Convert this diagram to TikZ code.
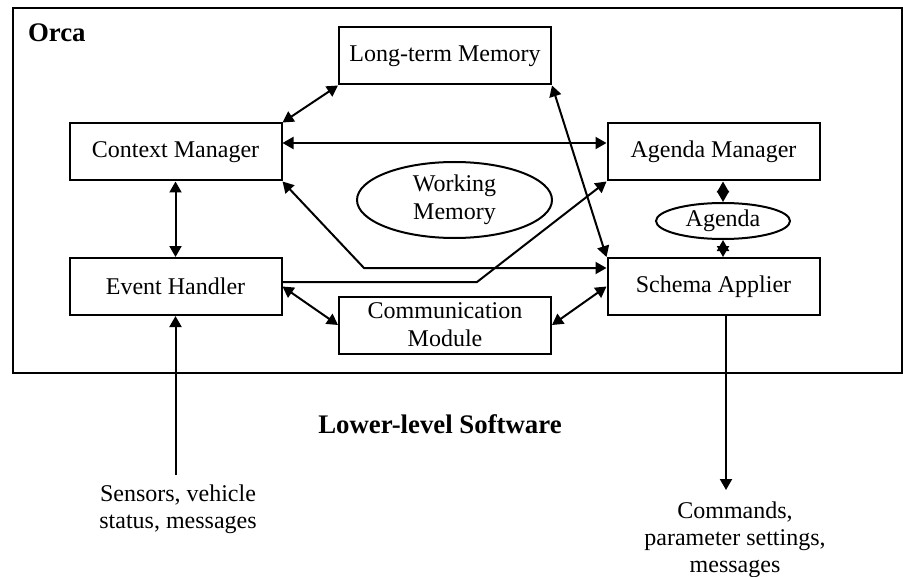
\documentclass[tikz,border=0pt]{standalone}
\usepackage{fontspec}
\setmainfont{Liberation Serif}
\usetikzlibrary{arrows.meta,shapes.geometric}

\begin{document}
\begin{tikzpicture}[x=0.5pt, y=-0.5pt, line width=1pt,
  >={Triangle[length=5.5pt, width=6pt]},
  module/.style={draw, rectangle, minimum width=106pt, minimum height=28.5pt,
    inner sep=0pt, align=center, font=\fontsize{12}{14}\selectfont},
  store/.style={draw, ellipse, inner sep=0pt, align=center,
    font=\fontsize{12}{14}\selectfont},
  io/.style={align=center, inner xsep=0pt, inner ysep=4.5pt,
    font=\fontsize{12}{13.5}\selectfont},
  heading/.style={inner sep=0pt, font=\fontsize{13.4}{16}\selectfont\bfseries}]
\useasboundingbox (0,0) rectangle (903,577);
\draw (13,8) rectangle (901.5,373);
\node[heading, anchor=west] (orca) at (27,33) {Orca};
\node[heading] (lower) at (440,424) {Lower-level Software};
\node[module] (ltm) at (445,56) {Long-term Memory};
\node[module] (cm) at (175.5,152) {Context Manager};
\node[module] (am) at (713.5,152) {Agenda Manager};
\node[module] (eh) at (175.5,286.5) {Event Handler};
\node[module] (sa) at (713.5,286.5) {Schema Applier};
\node[module] (comm) at (445,325) {Communication\\Module};
\node[store, minimum width=97.5pt, minimum height=38pt] (wm) at (454.5,200) {Working\\Memory};
\node[store, minimum width=67pt, minimum height=18pt] (agenda) at (723,221) {Agenda};
\draw[<->] (cm.north east) -- (ltm.south west);
\draw[<->] ([yshift=4.5pt]cm.east) -- ([yshift=4.5pt]am.west);
\draw[<->] (ltm.south east) -- (sa.north west);
\draw[<->] (cm.south) -- (eh.north);
\coordinate (wmlow) at (364,268);
\draw[<->] (cm.south east) -- (wmlow) -- (wmlow -| sa.west);
\coordinate (ehkink) at (477,282);
\draw[->] (ehkink -| eh.east) -- (ehkink) -- (am.south west);
\draw[<->] (eh.east) -- (comm.west);
\draw[<->] (comm.east) -- (sa.west);
\draw[<->] (agenda.north |- am.south) -- (agenda.north);
\draw[<->] (agenda.south) -- (agenda.south |- sa.north);
\node[io, anchor=north] (sensors) at (178,475) {Sensors, vehicle\\status, messages};
\draw[->] (eh.south |- sensors.north) -- (eh.south);
\node[io, anchor=north] (cmds) at (735,491.5) {Commands,\\parameter settings,\\messages};
\coordinate (cmdtip) at (726,490);
\draw[->] (cmdtip |- sa.south) -- (cmdtip);
\end{tikzpicture}
\end{document}
